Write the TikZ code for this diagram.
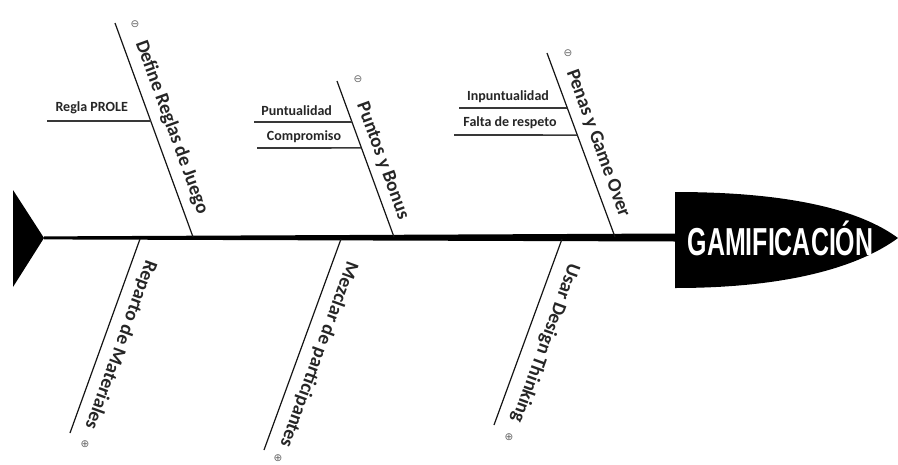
\documentclass[tikz,border=0pt]{standalone}
\usepackage{fontspec}
\setmainfont{Carlito}
\newfontfamily\headfont{Liberation Sans}
\newfontfamily\symfont{DejaVu Sans}
\usetikzlibrary{calc}
\begin{document}
\begin{tikzpicture}[x=1pt,y=-1pt,
  bone/.style={draw=black!92, line width=1.2pt},
  subbone/.style={draw=black!78, line width=1.6pt},
  mainlbl/.style={font=\bfseries\fontsize{19.3}{19.3}\selectfont, text=black!85, inner sep=0pt, anchor=base},
  sublbl/.style={font=\bfseries\fontsize{14}{14}\selectfont, text=black!85, inner sep=0pt, anchor=base},
  symlbl/.style={font=\symfont\fontsize{10.5}{10.5}\selectfont, text=black!60, inner sep=0pt},
  headlbl/.style={font=\headfont\bfseries\fontsize{39}{39}\selectfont, text=white, inner sep=0pt, anchor=base}]
\useasboundingbox (0,0) rectangle (898,464);
\fill[white] (0,0) rectangle (898,464);

% tail
\coordinate (tailtip) at (44,238);
\fill (13,190) -- (tailtip) -- (13,287) -- cycle;

% head
\coordinate (headbase) at (675,237.5);
\fill (675,192) .. controls (790,192) and (860,210) .. (898,238)
      .. controls (860,266) and (790,288) .. (675,288) -- cycle;
\node[headlbl] (head) at (780.5,255) {\scalebox{0.64}[1]{GAMIFICACIÓN}};

% spine
\fill ($(tailtip)+(0,-1.6)$) -- ($(headbase)+(0,-4)$) -- ($(headbase)+(0,4)$) -- ($(tailtip)+(0,1.4)$) -- cycle;

% main bones (top)
\coordinate (t1) at (115,23);  \coordinate (s1) at (193,237);
\coordinate (t2) at (337,81);  \coordinate (s2) at (394,237);
\coordinate (t3) at (547,53);  \coordinate (s3) at (615,237);
% main bones (bottom)
\coordinate (s4) at (140,239); \coordinate (t4) at (70,433);
\coordinate (s5) at (341,239); \coordinate (t5) at (264,450);
\coordinate (s6) at (562,239); \coordinate (t6) at (494,425);

\draw[bone] (t1) -- (s1);
\draw[bone] (t2) -- (s2);
\draw[bone] (t3) -- (s3);
\draw[bone] (s4) -- (t4);
\draw[bone] (s5) -- (t5);
\draw[bone] (s6) -- (t6);

% sub bones
\coordinate (r1) at (47,121);
\coordinate (r2) at (254,122);
\coordinate (r3) at (257,148);
\coordinate (r4) at (459,108);
\coordinate (r5) at (454,135);
\draw[subbone] (r1) -- ($(t1)!0.458!(s1)$);
\draw[subbone] (r2) -- ($(t2)!0.263!(s2)$);
\draw[subbone] (r3) -- ($(t2)!0.429!(s2)$);
\draw[subbone] (r4) -- ($(t3)!0.299!(s3)$);
\draw[subbone] (r5) -- ($(t3)!0.446!(s3)$);

% sub labels
\node[sublbl] (q1) at (91.7,111.7) {Regla PROLE};
\node[sublbl] (q2) at (296.7,115) {Puntualidad};
\node[sublbl] (q3) at (304,140) {Compromiso};
\node[sublbl] (q4) at (508,100) {Inpuntualidad};
\node[sublbl] (q5) at (510,126.7) {Falta de respeto};

% main labels
\node[mainlbl, rotate=-70] (l1) at ($(t1)!0.515!(s1)!12.5pt!90:(s1)$) {Define Reglas de Juego};
\node[mainlbl, rotate=-70] (l2) at ($(t2)!0.546!(s2)!10.5pt!90:(s2)$) {Puntos y Bonus};
\node[mainlbl, rotate=-70] (l3) at ($(t3)!0.522!(s3)!11.5pt!90:(s3)$) {Penas y Game Over};
\node[mainlbl, rotate=-110] (l4) at ($(s4)!0.515!(t4)!12.5pt!90:(t4)$) {Reparto de Materiales};
\node[mainlbl, rotate=-110] (l5) at ($(s5)!0.517!(t5)!13.5pt!90:(t5)$) {Mezclar de participantes};
\node[mainlbl, rotate=-110] (l6) at ($(s6)!0.523!(t6)!15pt!90:(t6)$) {Usar Design Thinking};

% symbols
\node[symlbl] (m1) at (135,24) {⊖};
\node[symlbl] (m2) at (358,79) {⊖};
\node[symlbl] (m3) at (568,53) {⊖};
\node[symlbl] (p1) at (85,444) {⊕};
\node[symlbl] (p2) at (278,458) {⊕};
\node[symlbl] (p3) at (509,437) {⊕};
\end{tikzpicture}
\end{document}
